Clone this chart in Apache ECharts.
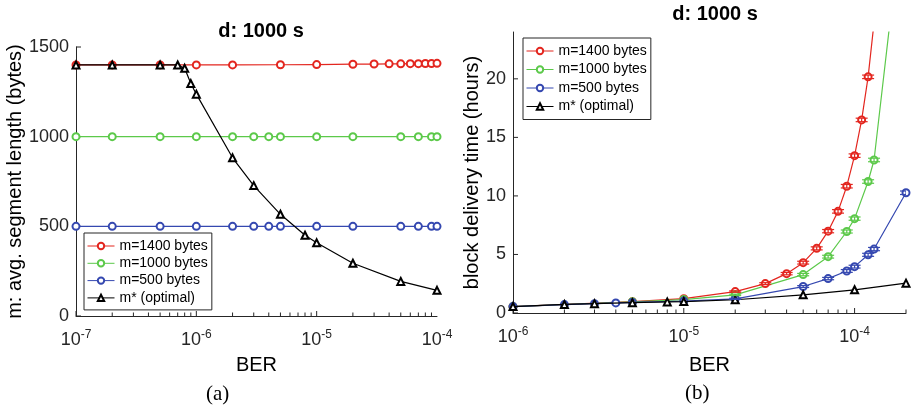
<!DOCTYPE html>
<html>
<head>
<meta charset="utf-8">
<script src="https://cdn.jsdelivr.net/npm/echarts@6/dist/echarts.min.js"></script>
<style>
html, body { margin: 0; padding: 0; background: #fff; }
#main { width: 912px; height: 409px; }
</style>
</head>
<body>
<div id="main"></div>
<script>
var names = ['m=1400 bytes', 'm=1000 bytes', 'm=500 bytes', 'm* (optimal)'];
var colors = ['#e3261f', '#5cc94a', '#3548b0', '#000000'];

// (a) m vs BER
var aRedX = [1e-7, 2e-7, 5e-7, 1e-6, 2e-6, 5e-6, 1e-5, 2e-5, 3e-5, 4e-5, 5e-5, 6e-5, 7e-5, 8e-5, 9e-5, 1e-4];
var aRedY = [1400, 1400, 1400, 1400, 1400, 1401, 1402, 1404, 1405, 1406, 1406, 1407, 1407, 1408, 1408, 1409];
var aGreenX = [1e-7, 2e-7, 5e-7, 1e-6, 2e-6, 3e-6, 4e-6, 5e-6, 1e-5, 2e-5, 5e-5, 7e-5, 9e-5, 1e-4];
var aGreenY = [1000, 1000, 1000, 1000, 1000, 1000, 1000, 1000, 1000, 1000, 1000, 1000, 1000, 1000];
var aBlueX = [1e-7, 2e-7, 5e-7, 1e-6, 2e-6, 3e-6, 4e-6, 5e-6, 1e-5, 2e-5, 5e-5, 7e-5, 9e-5, 1e-4];
var aBlueY = [500, 500, 500, 500, 500, 500, 500, 500, 500, 500, 500, 500, 500, 500];
var aOptX = [1e-7, 2e-7, 5e-7, 7e-7, 8e-7, 9e-7, 1e-6, 2e-6, 3e-6, 5e-6, 8e-6, 1e-5, 2e-5, 5e-5, 1e-4];
var aOptY = [1400, 1400, 1400, 1400, 1381, 1296, 1237, 882, 727, 567, 450, 408, 294, 193, 143];

// (b) delivery time vs BER
var bRedX = [1e-6, 5e-6, 1e-5, 2e-5, 3e-5, 4e-5, 5e-5, 6e-5, 7e-5, 8e-5, 9e-5, 1e-4, 1.1e-4, 1.2e-4, 1.3e-4];
var bRedY = [0.55, 0.97, 1.22, 1.83, 2.51, 3.36, 4.30, 5.52, 6.99, 8.68, 10.83, 13.44, 16.49, 20.17, 24.8];
var bRedErr = [0, 0, 0, 0.06, 0.08, 0.1, 0.12, 0.13, 0.14, 0.15, 0.15, 0.15, 0.15, 0.15, 0.15];
var bGreenX = [1e-6, 5e-6, 1e-5, 2e-5, 5e-5, 7e-5, 9e-5, 1e-4, 1.2e-4, 1.3e-4, 2e-4];
var bGreenY = [0.55, 0.96, 1.15, 1.55, 3.28, 4.81, 6.96, 8.06, 11.23, 13.07, 36.7];
var bGreenErr = [0, 0, 0, 0.06, 0.1, 0.12, 0.13, 0.14, 0.15, 0.15, 0.15];
var bBlueX = [1e-6, 2e-6, 3e-6, 4e-6, 5e-6, 1e-5, 2e-5, 5e-5, 7e-5, 9e-5, 1e-4, 1.2e-4, 1.3e-4, 2e-4];
var bBlueY = [0.55, 0.72, 0.8, 0.86, 0.9, 1.02, 1.21, 2.26, 2.94, 3.59, 3.96, 4.97, 5.46, 10.27];
var bBlueErr = [0, 0, 0, 0, 0, 0, 0.05, 0.08, 0.1, 0.12, 0.12, 0.13, 0.14, 0.15];
var bOptX = [1e-6, 2e-6, 3e-6, 5e-6, 8e-6, 1e-5, 2e-5, 5e-5, 1e-4, 2e-4];
var bOptY = [0.55, 0.73, 0.8, 0.88, 0.95, 0.98, 1.13, 1.55, 1.98, 2.55];

var yTicksA = [0, 500, 1000, 1500];
var yTicksB = [0, 5, 10, 15, 20];

var axisColor = '#262626';
var font = 'Liberation Sans';

function zip(xs, ys) {
    return xs.map(function (x, i) { return [x, ys[i]]; });
}

function errData(xs, ys, es) {
    var out = [];
    for (var i = 0; i < xs.length; i++) {
        if (es[i] > 0) out.push([xs[i], ys[i], es[i]]);
    }
    return out;
}

// tick marks: [x, y, dir(0 = x-axis, 1 = y-axis), length]
function tickData(dMin, dMax, xMin, xMax, yTicks) {
    var out = [];
    for (var e = dMin; e <= dMax; e++) {
        for (var k = 1; k <= 9; k++) {
            var v = k * Math.pow(10, e);
            if (v < xMin * 0.999 || v > xMax * 1.001) continue;
            out.push([v, yTicks[0], 0, k === 1 ? 5 : 3.5]);
        }
    }
    yTicks.forEach(function (t) { out.push([xMin, t, 1, 5]); });
    return out;
}

function renderTick(params, api) {
    var p = api.coord([api.value(0), api.value(1)]);
    var len = api.value(3);
    var shape = api.value(2) === 0
        ? {x1: p[0], y1: p[1], x2: p[0], y2: p[1] - len}
        : {x1: p[0], y1: p[1], x2: p[0] + len, y2: p[1]};
    return {type: 'line', shape: shape, style: {stroke: axisColor, lineWidth: 1}};
}

function renderErr(params, api) {
    var x = api.value(0), y = api.value(1), e = api.value(2);
    var hi = api.coord([x, y + e]);
    var lo = api.coord([x, y - e]);
    var w = 6;
    var st = {stroke: api.visual('color'), lineWidth: 1.2};
    return {
        type: 'group',
        children: [
            {type: 'line', shape: {x1: hi[0] - w, y1: hi[1], x2: hi[0] + w, y2: hi[1]}, style: st},
            {type: 'line', shape: {x1: lo[0] - w, y1: lo[1], x2: lo[0] + w, y2: lo[1]}, style: st},
            {type: 'line', shape: {x1: hi[0], y1: hi[1], x2: lo[0], y2: lo[1]}, style: st}
        ]
    };
}

function powLabel(v) {
    var e = Math.log10(v);
    if (Math.abs(e - Math.round(e)) > 1e-6) return '';
    return '{b|10}{s|' + Math.round(e) + '}';
}

var richPow = {
    b: {fontSize: 18, color: axisColor, fontFamily: font, verticalAlign: 'bottom'},
    s: {fontSize: 12, color: axisColor, fontFamily: font, verticalAlign: 'bottom', padding: [0, 0, 8, 0]}
};

function xAxisCfg(idx, min, max, gap) {
    return {
        type: 'log', logBase: 10, gridIndex: idx, min: min, max: max,
        name: 'BER', nameLocation: 'middle', nameGap: gap,
        nameTextStyle: {fontSize: 20, color: '#000', fontFamily: font},
        axisLine: {lineStyle: {color: axisColor, width: 1}},
        axisTick: {show: false},
        minorTick: {show: false},
        splitLine: {show: false},
        axisLabel: {margin: 13, formatter: powLabel, rich: richPow}
    };
}

function yAxisCfg(idx, max, interval, name, gap) {
    return {
        type: 'value', gridIndex: idx, min: 0, max: max, interval: interval,
        name: name, nameLocation: 'middle', nameGap: gap,
        nameTextStyle: {fontSize: 20, color: '#000', fontFamily: font},
        axisLine: {show: true, lineStyle: {color: axisColor, width: 1}},
        axisTick: {show: false},
        splitLine: {show: false},
        axisLabel: {
            margin: 7, fontSize: 18, color: axisColor, fontFamily: font,
            formatter: function (v) { return v % interval === 0 ? String(v) : ''; }
        }
    };
}

function lineSeries(name, data, color, sym, xi, z) {
    return {
        type: 'line', name: name, data: data, xAxisIndex: xi, yAxisIndex: xi,
        symbol: sym, symbolSize: 7,
        color: color, z: z,
        lineStyle: {color: color, width: 1.2},
        itemStyle: {color: color, borderColor: color, borderWidth: 1},
        clip: true
    };
}

function errSeries(name, data, color) {
    return {
        type: 'custom', name: name + ' err', xAxisIndex: 1, yAxisIndex: 1,
        data: data, renderItem: renderErr, color: color, clip: true, silent: true, z: 4
    };
}

function tickSeries(idx, data) {
    return {
        type: 'custom', xAxisIndex: idx, yAxisIndex: idx, data: data,
        renderItem: renderTick, silent: true, z: 1
    };
}

var chart = echarts.init(document.getElementById('main'));

var legendBase = {
    data: names, orient: 'vertical', backgroundColor: '#fff',
    borderColor: axisColor, borderWidth: 1, borderRadius: 0,
    itemWidth: 27, itemHeight: 8, itemGap: 3,
    lineStyle: {width: 1},
    itemStyle: {borderWidth: 1},
    textStyle: {fontSize: 14, color: '#000', fontFamily: font, lineHeight: 14},
    selectedMode: false
};

var option = {
    animation: false,
    textStyle: {fontFamily: font},
    title: [
        {text: 'd: 1000 s', left: 256, top: 16, textAlign: 'center',
            textStyle: {fontSize: 20, fontWeight: 'bold', color: '#000', fontFamily: font}},
        {text: 'd: 1000 s', left: 710, top: -1, textAlign: 'center',
            textStyle: {fontSize: 20, fontWeight: 'bold', color: '#000', fontFamily: font}}
    ],
    legend: [
        Object.assign({}, legendBase, {left: 84, top: 233, padding: [6, 4, 5, 3], itemGap: 3.3}),
        Object.assign({}, legendBase, {left: 523, top: 38, padding: [6, 4, 6, 3], itemGap: 4.5})
    ],
    grid: [
        {left: 76, top: 47, width: 361, height: 269},
        {left: 513, top: 32, width: 393, height: 281}
    ],
    xAxis: [
        xAxisCfg(0, 1e-7, 1e-4, 39),
        xAxisCfg(1, 1e-6, 2e-4, 42)
    ],
    yAxis: [
        yAxisCfg(0, 1500, 500, 'm: avg. segment length (bytes)', 48),
        yAxisCfg(1, 24, 5, 'block delivery time (hours)', 30)
    ],
    graphic: [
        {type: 'text', left: 206, top: 384, style: {text: '(a)', fontSize: 21, fontFamily: 'Liberation Serif', fill: '#000'}},
        {type: 'text', left: 685, top: 383, style: {text: '(b)', fontSize: 21, fontFamily: 'Liberation Serif', fill: '#000'}}
    ],
    series: [
        tickSeries(0, tickData(-7, -5, 1e-7, 1e-4, yTicksA)),
        tickSeries(1, tickData(-6, -4, 1e-6, 2e-4, yTicksB)),
        lineSeries(names[0], zip(aRedX, aRedY), colors[0], 'emptyCircle', 0, 2),
        lineSeries(names[1], zip(aGreenX, aGreenY), colors[1], 'emptyCircle', 0, 2),
        lineSeries(names[2], zip(aBlueX, aBlueY), colors[2], 'emptyCircle', 0, 2),
        lineSeries(names[3], zip(aOptX, aOptY), colors[3], 'emptyTriangle', 0, 3),
        lineSeries(names[0], zip(bRedX, bRedY), colors[0], 'emptyCircle', 1, 2),
        lineSeries(names[1], zip(bGreenX, bGreenY), colors[1], 'emptyCircle', 1, 2),
        lineSeries(names[2], zip(bBlueX, bBlueY), colors[2], 'emptyCircle', 1, 2),
        lineSeries(names[3], zip(bOptX, bOptY), colors[3], 'emptyTriangle', 1, 3),
        errSeries(names[0], errData(bRedX, bRedY, bRedErr), colors[0]),
        errSeries(names[1], errData(bGreenX, bGreenY, bGreenErr), colors[1]),
        errSeries(names[2], errData(bBlueX, bBlueY, bBlueErr), colors[2])
    ]
};

chart.setOption(option);
</script>
</body>
</html>
